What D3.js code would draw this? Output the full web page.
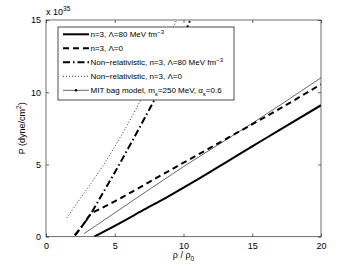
<!DOCTYPE html>
<html>
<head>
<meta charset="utf-8">
<title>P vs rho</title>
<script src="https://cdn.jsdelivr.net/npm/d3@7"></script>
<style>
  body { margin: 0; background: #fff; }
  svg text { font-family: "Liberation Sans", Arial, sans-serif; fill: #000; }
</style>
</head>
<body>
<div id="chart"></div>
<script>
    // values (rho/rho0, P in 1e35 dyne/cm^2)
    var solidLambda80 = [[3.5,0],[5,0.75],[7,1.8],[9,2.85],[11,3.95],[13,5.1],[15,6.25],[17,7.4],[20,9.1]];
    var dashedLambda0 = [[2.1,0.1],[2.6,0.7],[3.2,1.5],[4,1.95],[5,2.45],[6,2.97],[8,4.05],[10,5.12],[12,6.18],[14,7.25],[16,8.32],[18,9.42],[20,10.55]];
    var nonRelLambda80 = [[2.1,0.1],[2.6,0.7],[3.2,1.5],[4,2.8],[5,4.45],[6,6.15],[7,7.9],[8,9.7],[9,11.7],[10,13.9],[10.5,15]];
    var nonRelLambda0 = [[1.5,1.3],[2.5,2.65],[3.5,4.0],[4.5,5.45],[5.5,7.05],[6.5,8.75],[7.5,10.6],[8.5,12.6],[9.4,14.8],[9.5,15]];
    var mitBag = [[2.75,0.2],[5,1.65],[10,4.85],[15,7.85],[20,11.0]];

    var xTicks = [0, 5, 10, 15, 20];
    var yTicks = [0, 5, 10, 15];

    var legendLabels = [
        ["n=3, Λ=80 MeV fm", "−3"],
        ["n=3, Λ=0", ""],
        ["Non−relativistic, n=3, Λ=80 MeV fm", "−3"],
        ["Non−relativistic, n=3, Λ=0", ""],
        ["MIT bag model, m", "s", "=250 MeV, α", "s", "=0.6"]
    ];

    var W = 354, H = 267;
    var mL = 46, mR = 321, mT = 20, mB = 236.7;

    var svg = d3.select("#chart").append("svg")
        .attr("width", W)
        .attr("height", H);

    var x = d3.scaleLinear().domain([0, 20]).range([mL, mR]);
    var y = d3.scaleLinear().domain([0, 15]).range([mB, mT]);

    svg.append("defs").append("clipPath").attr("id", "clip")
        .append("rect").attr("x", mL).attr("y", mT)
        .attr("width", mR - mL).attr("height", mB - mT);

    var styles = [
        { data: solidLambda80, w: 2, dash: null },
        { data: dashedLambda0, w: 2, dash: "6,4" },
        { data: nonRelLambda80, w: 2, dash: "7,3,1.5,3" },
        { data: nonRelLambda0, w: 0.8, dash: "1,2" },
        { data: mitBag, w: 0.6, dash: null, marker: true }
    ];

    var line = d3.line()
        .x(function(d) { return x(d[0]); })
        .y(function(d) { return y(d[1]); })
        .curve(d3.curveMonotoneX);

    var plot = svg.append("g").attr("clip-path", "url(#clip)");
    styles.forEach(function(s) {
        plot.append("path")
            .attr("d", line(s.data))
            .attr("fill", "none")
            .attr("stroke", "#000")
            .attr("stroke-width", s.w)
            .attr("stroke-dasharray", s.dash);
    });

    // axes: ticks inward on all four sides
    var axisB = d3.axisBottom(x).tickValues(xTicks).tickSize(-3).tickPadding(6);
    var axisT = d3.axisTop(x).tickValues(xTicks).tickSize(-3).tickFormat("");
    var axisL = d3.axisLeft(y).tickValues(yTicks).tickSize(-3).tickPadding(5);
    var axisR = d3.axisRight(y).tickValues(yTicks).tickSize(-3).tickFormat("");

    function styleAxis(g) {
        g.select(".domain").remove();
        g.selectAll("line").attr("stroke", "#000").attr("stroke-width", 0.6);
        g.selectAll("text").attr("font-size", 9).style("font-family", "Liberation Sans, Arial, sans-serif");
    }
    svg.append("g").attr("transform", "translate(0," + mB + ")").call(axisB).call(styleAxis);
    svg.append("g").attr("transform", "translate(0," + mT + ")").call(axisT).call(styleAxis);
    svg.append("g").attr("transform", "translate(" + mL + ",0)").call(axisL).call(styleAxis);
    svg.append("g").attr("transform", "translate(" + mR + ",0)").call(axisR).call(styleAxis);

    svg.append("rect")
        .attr("x", mL).attr("y", mT)
        .attr("width", mR - mL).attr("height", mB - mT)
        .attr("fill", "none").attr("stroke", "#333").attr("stroke-width", 0.7);

    // exponent label
    var ex = svg.append("text").attr("x", mL).attr("y", 15).attr("font-size", 9);
    ex.append("tspan").text("x 10");
    ex.append("tspan").attr("dy", -4).attr("font-size", 6.5).text("35");

    // axis titles
    var xl = svg.append("text").attr("x", (mL + mR) / 2).attr("y", 258)
        .attr("text-anchor", "middle").attr("font-size", 9);
    xl.append("tspan").text("ρ / ρ");
    xl.append("tspan").attr("dy", 3).attr("font-size", 6.5).text("0");

    var yl = svg.append("text")
        .attr("transform", "translate(25," + ((mT + mB) / 2) + ") rotate(-90)")
        .attr("text-anchor", "middle").attr("font-size", 9);
    yl.append("tspan").text("P (dyne/cm");
    yl.append("tspan").attr("dy", -4).attr("font-size", 6.5).text("2");
    yl.append("tspan").attr("dy", 4).text(")");

    // legend
    var lg = svg.append("g");
    lg.append("rect").attr("x", 58).attr("y", 27).attr("width", 176).attr("height", 73)
        .attr("fill", "#fff").attr("stroke", "#000").attr("stroke-width", 0.7);
    var rowY = d3.scaleLinear().domain([0, 4]).range([34.3, 90.3]);
    styles.forEach(function(s, i) {
        var yy = rowY(i);
        lg.append("line").attr("x1", 63).attr("x2", 89).attr("y1", yy).attr("y2", yy)
            .attr("stroke", "#000").attr("stroke-width", s.w)
            .attr("stroke-dasharray", s.dash);
        if (s.marker) {
            lg.append("circle").attr("cx", 76).attr("cy", yy).attr("r", 1.2).attr("fill", "#000");
        }
        var t = lg.append("text").attr("x", 90.5).attr("y", yy + 3).attr("font-size", 8);
        var parts = legendLabels[i];
        t.append("tspan").text(parts[0]);
        if (i === 4) {
            t.append("tspan").attr("dy", 2.5).attr("font-size", 6).text(parts[1]);
            t.append("tspan").attr("dy", -2.5).text(parts[2]);
            t.append("tspan").attr("dy", 2.5).attr("font-size", 6).text(parts[3]);
            t.append("tspan").attr("dy", -2.5).text(parts[4]);
        } else if (parts[1]) {
            t.append("tspan").attr("dy", -3.5).attr("font-size", 6).text(parts[1]);
        }
    });
</script>
</body>
</html>
